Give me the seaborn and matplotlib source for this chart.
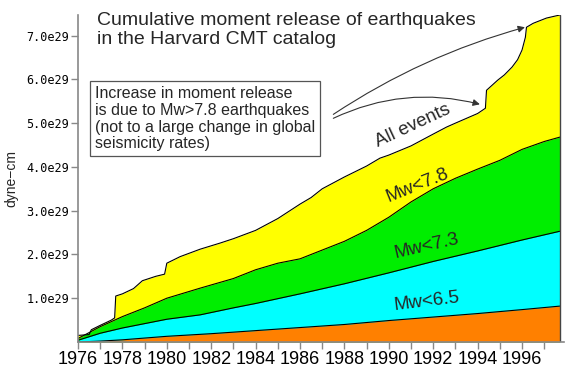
import matplotlib
matplotlib.use("Agg")
import matplotlib.pyplot as plt
import seaborn as sns

# -------------------------------
# Data (moment in units of 1e29 dyne-cm)
# -------------------------------
all_years = [1976.0, 1976.5, 1976.6, 1977.0, 1977.5, 1977.65, 1977.7, 1978.0, 1978.5,
             1978.9, 1979.5, 1979.9, 1980.0, 1980.6, 1981.5, 1982.4, 1983.0, 1984.0,
             1985.0, 1986.0, 1986.5, 1987.0, 1988.0, 1989.0, 1989.6, 1990.0, 1991.0,
             1992.0, 1992.6, 1993.0, 1994.0, 1994.35, 1994.4, 1994.9, 1995.2, 1995.55,
             1995.8, 1996.0, 1996.15, 1996.2, 1996.5, 1997.1, 1997.7]
all_vals = [0.15, 0.17, 0.28, 0.38, 0.50, 0.55, 1.05, 1.10, 1.22,
            1.40, 1.50, 1.55, 1.80, 1.95, 2.12, 2.26, 2.36, 2.55,
            2.82, 3.15, 3.30, 3.50, 3.77, 4.02, 4.20, 4.27, 4.48,
            4.75, 4.91, 5.00, 5.22, 5.34, 5.75, 5.98, 6.10, 6.28,
            6.45, 6.67, 6.96, 7.19, 7.28, 7.40, 7.47]

mw78_years = [1976, 1977, 1978, 1979, 1980, 1981.5, 1983, 1984, 1985, 1986, 1987, 1988,
              1989, 1990, 1991, 1992, 1993, 1994, 1995, 1996, 1997, 1997.7]
mw78_vals = [0.08, 0.35, 0.58, 0.78, 1.00, 1.23, 1.45, 1.65, 1.80, 1.90, 2.10, 2.30,
             2.55, 2.85, 3.20, 3.50, 3.74, 3.95, 4.15, 4.40, 4.58, 4.68]

mw73_years = [1976, 1977, 1978, 1979, 1980, 1981.5, 1983, 1984, 1986, 1988, 1990, 1992,
              1994, 1996, 1997.7]
mw73_vals = [0.04, 0.20, 0.32, 0.42, 0.52, 0.62, 0.78, 0.88, 1.10, 1.33, 1.58, 1.84,
             2.08, 2.33, 2.53]

mw65_years = [1976, 1977, 1978, 1980, 1982, 1984, 1986, 1988, 1990, 1992, 1994, 1996, 1997.7]
mw65_vals = [0.00, 0.02, 0.05, 0.13, 0.19, 0.26, 0.33, 0.40, 0.49, 0.57, 0.65, 0.74, 0.82]

year_ticks = list(range(1976, 1998))
moment_ticks = [1, 2, 3, 4, 5, 6, 7]

# -------------------------------
# Plot
# -------------------------------
sns.set_style("ticks")
plt.rcParams["font.family"] = ["Liberation Sans", "DejaVu Sans"]

fig = plt.figure(figsize=(5.75, 3.75), dpi=100)
ax = fig.add_axes([78 / 575, 33 / 375, 486 / 575, 327 / 375])

layers = [
    (all_years, all_vals, "#ffff00"),
    (mw78_years, mw78_vals, "#00ee00"),
    (mw73_years, mw73_vals, "#00ffff"),
    (mw65_years, mw65_vals, "#ff8000"),
]
for yrs, vals, col in layers:
    ax.fill_between(yrs, 0, vals, color=col, lw=0)
    sns.lineplot(x=yrs, y=vals, color="black", lw=0.8, estimator=None, ax=ax)

# right edge of the filled area
ax.plot([all_years[-1], all_years[-1]], [0, all_vals[-1]], color="#444444", lw=1.0)

ax.set_xlim(1976, 1997.89)
ax.set_ylim(0, 7.47)
ax.set_xticks(year_ticks)
ax.set_xticklabels([str(y) if y % 2 == 0 else "" for y in year_ticks], fontsize=13)
ax.set_yticks(moment_ticks)
ax.set_yticklabels([f"{v:.1f}e29" for v in moment_ticks], fontsize=8.5,
                   family="DejaVu Sans Mono")
ax.set_ylabel("dyne\u2212cm", fontsize=10, labelpad=6)

sns.despine(ax=ax)
for side in ["left", "bottom"]:
    ax.spines[side].set_color("#888888")
    ax.spines[side].set_linewidth(1.2)
ax.tick_params(colors="#888888", length=5, width=1.0, pad=1.5, labelcolor="black")

# titles and labels
ax.text(0.039, 0.955, "Cumulative moment release of earthquakes\nin the Harvard CMT catalog",
        transform=ax.transAxes, fontsize=14, ha="left", va="center", linespacing=1.15)
ax.text(0.035, 0.683,
        "Increase in moment release\nis due to Mw>7.8 earthquakes\n"
        "(not to a large change in global\nseismicity rates)",
        transform=ax.transAxes, fontsize=11.5, ha="left", va="center", linespacing=1.15,
        bbox=dict(boxstyle="square,pad=0.3", fc="white", ec="#555555", lw=0.9))

ax.annotate("", xy=(1996.13, 7.19), xytext=(1987.5, 5.2),
            arrowprops=dict(arrowstyle="-|>", color="#333333", lw=0.8, mutation_scale=10,
                            connectionstyle="arc3,rad=-0.08", shrinkA=0, shrinkB=0))
ax.annotate("", xy=(1994.1, 5.43), xytext=(1987.5, 5.11),
            arrowprops=dict(arrowstyle="-|>", color="#333333", lw=0.8, mutation_scale=10,
                            connectionstyle="arc3,rad=-0.18", shrinkA=0, shrinkB=0))

ax.text(1991.1, 4.95, "All events", fontsize=13.5, rotation=25, ha="center", va="center")
ax.text(1991.3, 3.58, "Mw<7.8", fontsize=13.5, rotation=22, ha="center", va="center")
ax.text(1991.7, 2.2, "Mw<7.3", fontsize=13.5, rotation=13, ha="center", va="center")
ax.text(1991.7, 0.92, "Mw<6.5", fontsize=13.5, rotation=7, ha="center", va="center")

fig.savefig("out.png", dpi=100)
